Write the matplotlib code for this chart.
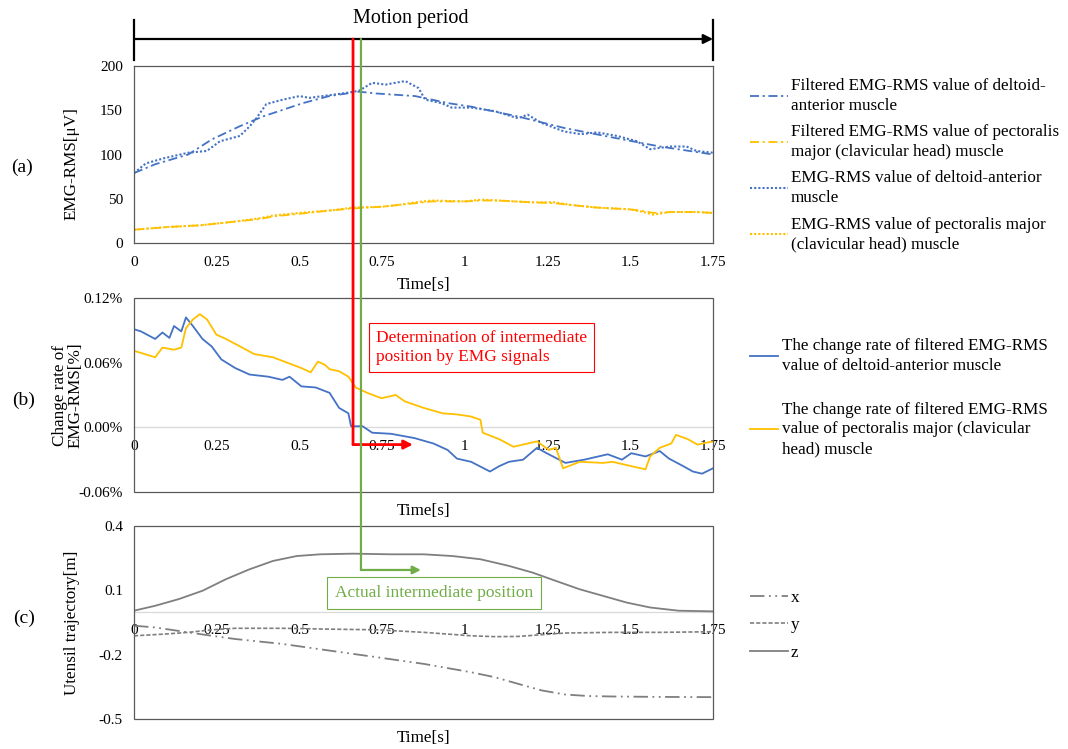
import matplotlib
matplotlib.use("Agg")
import matplotlib.pyplot as plt
import matplotlib.patches as patches
from matplotlib.lines import Line2D
from matplotlib.transforms import blended_transform_factory

plt.rcParams['font.family'] = ['Liberation Serif', 'DejaVu Serif']

blue = '#4472C4'
orange = '#FFC000'
gray = '#7F7F7F'
red = '#FF0000'
green = '#70AD47'
frame = '#595959'

# ---- (a) EMG-RMS ----
t_delt_raw = [0, 0.036, 0.093, 0.164, 0.22, 0.26, 0.32, 0.35, 0.37, 0.40, 0.45, 0.50, 0.53,
              0.59, 0.65, 0.68, 0.72, 0.76, 0.82, 0.86, 0.88, 0.93, 0.96, 1.02, 1.09, 1.16,
              1.19, 1.23, 1.30, 1.35, 1.40, 1.46, 1.52, 1.56, 1.62, 1.67, 1.70, 1.75]
delt_raw = [79, 90, 96, 102, 104, 115, 121, 132, 141, 157, 162, 166, 164,
            167, 170, 172, 181, 179, 183, 175, 162, 158, 153, 153, 149, 141,
            145, 136, 126, 123, 125, 121, 115, 106, 109, 109, 104, 102]
t_delt_filt = [0, 0.064, 0.164, 0.235, 0.32, 0.39, 0.51, 0.59, 0.68, 0.73, 0.85, 0.95,
               1.02, 1.16, 1.30, 1.45, 1.59, 1.75]
delt_filt = [79, 89, 100, 117, 132, 143, 158, 166, 171, 169, 166, 158,
             154, 143, 130, 119, 109, 100]
t_pect = [0, 0.1, 0.2, 0.25, 0.3, 0.38, 0.42, 0.5, 0.6, 0.66, 0.75, 0.8, 0.85, 0.9, 1.0,
          1.05, 1.1, 1.2, 1.27, 1.32, 1.4, 1.5, 1.54, 1.57, 1.62, 1.7, 1.75]
pect_raw = [15, 18, 20, 22, 24, 28, 31, 34, 37, 40, 41, 43, 46, 48, 47,
            49, 48, 46, 46, 43, 40, 38, 35, 32, 35, 35, 34]
pect_filt = [15, 18, 20, 22, 24, 27, 30, 33, 37, 39, 41, 43, 45, 47, 47,
             48, 48, 46, 45, 43, 40, 38, 36, 34, 35, 35, 34]

# ---- (b) change rate [%] ----
t_rate_delt = [0, 0.021, 0.064, 0.086, 0.107, 0.121, 0.143, 0.157, 0.178, 0.207, 0.235, 0.264,
               0.306, 0.349, 0.406, 0.449, 0.470, 0.506, 0.549, 0.591, 0.620, 0.648, 0.656,
               0.691, 0.720, 0.777, 0.848, 0.905, 0.948, 0.976, 1.019, 1.076, 1.104, 1.133,
               1.176, 1.218, 1.247, 1.304, 1.361, 1.432, 1.475, 1.503, 1.546, 1.589, 1.617,
               1.660, 1.689, 1.717, 1.75]
rate_delt = [0.091, 0.089, 0.082, 0.088, 0.083, 0.094, 0.089, 0.102, 0.094, 0.082, 0.075, 0.063,
             0.055, 0.049, 0.047, 0.044, 0.047, 0.038, 0.037, 0.032, 0.018, 0.013, 0.001,
             0.001, -0.005, -0.006, -0.010, -0.015, -0.021, -0.029, -0.032, -0.041, -0.036, -0.032,
             -0.030, -0.019, -0.024, -0.033, -0.030, -0.025, -0.030, -0.024, -0.027, -0.022, -0.029,
             -0.036, -0.041, -0.043, -0.038]
t_rate_pect = [0, 0.064, 0.086, 0.121, 0.143, 0.157, 0.178, 0.199, 0.221, 0.249, 0.278, 0.321,
               0.363, 0.420, 0.463, 0.506, 0.534, 0.556, 0.577, 0.591, 0.620, 0.648, 0.670,
               0.705, 0.748, 0.791, 0.819, 0.876, 0.933, 0.976, 1.019, 1.047, 1.054, 1.104,
               1.147, 1.176, 1.218, 1.254, 1.275, 1.297, 1.347, 1.418, 1.446, 1.503, 1.546,
               1.560, 1.589, 1.624, 1.638, 1.674, 1.703, 1.75]
rate_pect = [0.071, 0.065, 0.074, 0.072, 0.074, 0.092, 0.100, 0.105, 0.100, 0.086, 0.082, 0.075,
             0.068, 0.065, 0.060, 0.055, 0.051, 0.061, 0.058, 0.054, 0.052, 0.047, 0.037,
             0.032, 0.027, 0.030, 0.024, 0.018, 0.013, 0.012, 0.010, 0.007, -0.005, -0.011,
             -0.018, -0.016, -0.013, -0.021, -0.019, -0.038, -0.032, -0.033, -0.032, -0.036, -0.039,
             -0.027, -0.019, -0.015, -0.007, -0.011, -0.016, -0.013]

# ---- (c) utensil trajectory [m] ----
t_x = [0, 0.064, 0.164, 0.235, 0.306, 0.449, 0.591, 0.734, 0.876, 1.019, 1.090, 1.161,
       1.233, 1.304, 1.375, 1.446, 1.589, 1.75]
traj_x = [-0.065, -0.073, -0.096, -0.112, -0.127, -0.150, -0.181, -0.212, -0.243, -0.282,
          -0.305, -0.336, -0.367, -0.386, -0.393, -0.395, -0.397, -0.398]
t_y = [0, 0.093, 0.164, 0.235, 0.306, 0.449, 0.591, 0.734, 0.876, 1.019, 1.090, 1.161,
       1.304, 1.446, 1.589, 1.75]
traj_y = [-0.112, -0.104, -0.096, -0.084, -0.077, -0.077, -0.081, -0.084, -0.096, -0.112,
          -0.116, -0.115, -0.099, -0.096, -0.096, -0.093]
t_z = [0, 0.064, 0.135, 0.207, 0.278, 0.349, 0.420, 0.492, 0.563, 0.662, 0.777, 0.876,
       0.962, 1.047, 1.133, 1.204, 1.275, 1.347, 1.418, 1.489, 1.560, 1.646, 1.75]
traj_z = [0.005, 0.028, 0.059, 0.098, 0.152, 0.198, 0.237, 0.260, 0.268, 0.271, 0.268, 0.268,
          0.260, 0.245, 0.214, 0.183, 0.144, 0.105, 0.074, 0.043, 0.020, 0.005, 0.002]

x_ticks = [0, 0.25, 0.5, 0.75, 1, 1.25, 1.5, 1.75]
x_ticklabels = ['0', '0.25', '0.5', '0.75', '1', '1.25', '1.5', '1.75']
ticks_a = [0, 50, 100, 150, 200]
ticks_b = [-0.06, 0.0, 0.06, 0.12]
ticks_c = [-0.5, -0.2, 0.1, 0.4]

t_emg = 0.662     # intermediate position by EMG
t_actual = 0.686  # actual intermediate position

W, H = 1068, 749
fig = plt.figure(figsize=(W / 100, H / 100), dpi=100)


def px_axes(left, top, right, bottom):
    return fig.add_axes([left / W, 1 - bottom / H, (right - left) / W, (bottom - top) / H])


ax_a = px_axes(134, 66, 713, 243)
ax_b = px_axes(134, 298, 713, 492)
ax_c = px_axes(134, 526, 713, 719)

lab_fs = 12.3
tick_fs = 11

for ax in (ax_a, ax_b, ax_c):
    ax.set_xlim(0, 1.75)
    ax.set_xticks(x_ticks)
    ax.set_xticklabels(x_ticklabels)
    ax.tick_params(length=0, labelsize=tick_fs, colors='black')
    ax.tick_params(axis='x', pad=9)
    ax.tick_params(axis='y', pad=8)
    ax.set_xlabel('Time[s]', fontsize=lab_fs)
    for s in ax.spines.values():
        s.set_color(frame)
        s.set_linewidth(0.9)

# (a)
ax_a.plot(t_delt_filt, delt_filt, color=blue, lw=1.3, dashes=[5, 2, 1.2, 2],
          label='Filtered EMG-RMS value of deltoid-\nanterior muscle')
ax_a.plot(t_pect, pect_filt, color=orange, lw=1.3, dashes=[5, 2, 1.2, 2],
          label='Filtered EMG-RMS value of pectoralis\nmajor (clavicular head) muscle')
ax_a.plot(t_delt_raw, delt_raw, color=blue, lw=1.5, dashes=[1, 1],
          label='EMG-RMS value of deltoid-anterior\nmuscle')
ax_a.plot(t_pect, pect_raw, color=orange, lw=1.5, dashes=[1, 1],
          label='EMG-RMS value of pectoralis major\n(clavicular head) muscle')
ax_a.set_ylim(0, 200)
ax_a.set_yticks(ticks_a)
ax_a.set_ylabel('EMG-RMS[\u03bcV]', fontsize=lab_fs, ha='center', va='center')
ax_a.yaxis.set_label_coords(-0.107, 0.45)
ax_a.xaxis.set_label_coords(0.5, -0.19)

# (b)
ax_b.plot(t_rate_delt, rate_delt, color=blue, lw=1.3,
          label='The change rate of filtered EMG-RMS\nvalue of deltoid-anterior muscle')
ax_b.plot(t_rate_pect, rate_pect, color=orange, lw=1.3,
          label='The change rate of filtered EMG-RMS\nvalue of pectoralis major (clavicular\nhead) muscle')
ax_b.set_ylim(-0.06, 0.12)
ax_b.set_yticks(ticks_b)
ax_b.set_yticklabels(['%.2f%%' % v for v in ticks_b])
ax_b.set_ylabel('Change rate of\nEMG-RMS[%]', fontsize=lab_fs, ha='center', va='center',
                linespacing=1.0)
ax_b.yaxis.set_label_coords(-0.114, 0.5)
ax_b.xaxis.set_label_coords(0.5, -0.055)

# (c)
ax_c.plot(t_x, traj_x, color=gray, lw=1.3, dashes=[8, 2.5, 1, 2.5, 1, 2.5], label='x')
ax_c.plot(t_y, traj_y, color=gray, lw=1.2, dashes=[2.5, 1.2], label='y')
ax_c.plot(t_z, traj_z, color=gray, lw=1.3, label='z')
ax_c.set_ylim(-0.5, 0.4)
ax_c.set_yticks(ticks_c)
ax_c.set_yticklabels(['%.1f' % v for v in ticks_c])
ax_c.set_ylabel('Utensil trajectory[m]', fontsize=lab_fs, ha='center', va='center')
ax_c.yaxis.set_label_coords(-0.107, 0.5)
ax_c.xaxis.set_label_coords(0.5, -0.058)

# zero axis line in (b) and (c): tick labels sit on it, box drawn separately
for ax in (ax_b, ax_c):
    for s in ('top', 'left', 'right'):
        ax.spines[s].set_visible(False)
    ax.spines['bottom'].set_position(('data', 0))
    ax.spines['bottom'].set_color('#D9D9D9')
    ax.spines['bottom'].set_zorder(1)
    ax.add_patch(patches.Rectangle((0, 0), 1, 1, transform=ax.transAxes, fill=False,
                                   edgecolor=frame, lw=0.9, clip_on=False, zorder=3))

# legends
leg_fs = 12.3
leg_a = ax_a.legend(loc='upper left', bbox_to_anchor=(750 / W, 1 - 78 / H), bbox_transform=fig.transFigure,
                    frameon=False, fontsize=leg_fs, borderpad=0, borderaxespad=0, handlelength=2.2,
                    handletextpad=0.2, labelspacing=0.62)
leg_b = ax_b.legend(loc='upper left', bbox_to_anchor=(750 / W, 1 - 338 / H), bbox_transform=fig.transFigure,
                    frameon=False, fontsize=leg_fs, borderpad=0, borderaxespad=0, handlelength=1.65,
                    handletextpad=0.2, labelspacing=1.65)
leg_c = ax_c.legend(loc='upper left', bbox_to_anchor=(750 / W, 1 - 590 / H), bbox_transform=fig.transFigure,
                    frameon=False, fontsize=leg_fs, borderpad=0, borderaxespad=0, handlelength=2.2,
                    handletextpad=0.2, labelspacing=0.66)
for leg in (leg_a, leg_b):
    for txt in leg.get_texts():
        txt.set_linespacing(1.3)

# panel tags
fig.text(22 / W, 1 - 167 / H, '(a)', fontsize=14, ha='center', va='center')
fig.text(24 / W, 1 - 400 / H, '(b)', fontsize=14, ha='center', va='center')
fig.text(24 / W, 1 - 618 / H, '(c)', fontsize=14, ha='center', va='center')

# motion period bracket
trans_a = blended_transform_factory(ax_a.transData, fig.transFigure)
y_arrow = 1 - 39 / H
for tt in (0, 1.75):
    fig.add_artist(Line2D([tt, tt], [1 - 20 / H, 1 - 60 / H], transform=trans_a, color='black', lw=1.6))
fig.add_artist(patches.FancyArrowPatch((0, y_arrow), (1.75, y_arrow), transform=trans_a,
                                       arrowstyle='-|>', mutation_scale=14, color='black', lw=1.6,
                                       shrinkA=0, shrinkB=0))
fig.text(411 / W, 1 - 18 / H, 'Motion period', fontsize=14.5, ha='center', va='center')

# EMG-based intermediate position (red)
y_red = -0.016
fig.add_artist(patches.ConnectionPatch(xyA=(t_emg, y_arrow), coordsA=trans_a, xyB=(t_emg, y_red),
                                       coordsB=ax_b.transData, color=red, lw=2.0, zorder=5))
fig.add_artist(patches.FancyArrowPatch((t_emg, y_red), (0.843, y_red), transform=ax_b.transData,
                                       arrowstyle='-|>', mutation_scale=13, color=red, lw=2.0,
                                       shrinkA=0, shrinkB=0, zorder=5))
ax_b.text(0.731, 0.0742, 'Determination of intermediate\nposition by EMG signals', color=red,
          fontsize=12.5, ha='left', va='center', zorder=6,
          bbox=dict(boxstyle='square,pad=0.4', facecolor='white', edgecolor=red, lw=0.8))

# actual intermediate position (green)
y_green = 0.195
fig.add_artist(patches.ConnectionPatch(xyA=(t_actual, y_arrow), coordsA=trans_a, xyB=(t_actual, y_green),
                                       coordsB=ax_c.transData, color=green, lw=1.6, zorder=5))
fig.add_artist(patches.FancyArrowPatch((t_actual, y_green), (0.867, y_green), transform=ax_c.transData,
                                       arrowstyle='-|>', mutation_scale=12, color=green, lw=1.6,
                                       shrinkA=0, shrinkB=0, zorder=5))
ax_c.text(0.907, 0.0886, 'Actual intermediate position', color=green, fontsize=12.5,
          ha='center', va='center', zorder=6,
          bbox=dict(boxstyle='square,pad=0.45', facecolor='white', edgecolor=green, lw=0.8))

fig.savefig('out.png', dpi=100)
